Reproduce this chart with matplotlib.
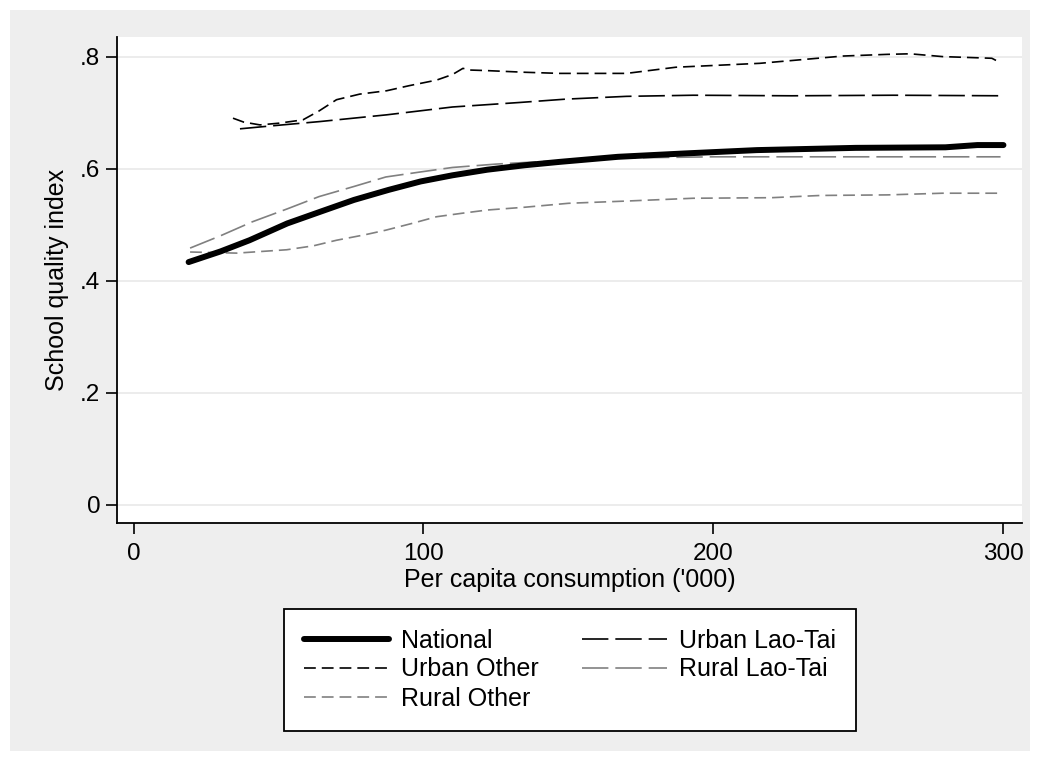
import matplotlib
matplotlib.use("Agg")
import matplotlib.pyplot as plt
from matplotlib.patches import Rectangle

plt.rcParams['font.family'] = ['Liberation Sans', 'DejaVu Sans']
plt.rcParams['lines.scale_dashes'] = False

# ---- data ----
nat_x = [19, 30, 40, 53, 65, 76, 88, 99, 110, 122, 135, 147, 167, 190, 215, 249, 280, 291, 300]
nat_y = [.433, .452, .472, .502, .524, .544, .562, .577, .588, .598, .606, .612, .621, .627, .633, .637, .638, .642, .642]

ult_x = [36.7, 47, 64.3, 87.3, 110, 133, 149, 170, 193, 227, 262, 300]
ult_y = [.671, .676, .684, .696, .710, .718, .724, .729, .731, .730, .731, .730]

uo_x = [34.3, 38, 43.6, 50, 58.4, 64, 70, 78, 87.3, 95, 104.5, 110, 113.6, 116, 121.8,
        135, 147, 170, 187, 216, 244.7, 260, 267.8, 279, 296, 297.5]
uo_y = [.690, .683, .678, .681, .687, .703, .723, .733, .739, .748, .758, .768, .779, .776, .775,
        .772, .770, .770, .781, .788, .801, .804, .805, .800, .797, .793]

rlt_x = [19.5, 30, 41, 53, 64, 76, 87, 99, 110, 125, 139, 155, 170, 200, 250, 299]
rlt_y = [.458, .480, .505, .528, .550, .568, .585, .594, .602, .608, .612, .616, .619, .621, .621, .621]

ro_x = [19.5, 35.6, 52.8, 62, 70, 80, 87, 96, 104.5, 113, 122, 135, 150, 170, 193, 220, 237, 260, 279, 298]
ro_y = [.451, .449, .455, .462, .472, .482, .490, .502, .514, .520, .526, .531, .538, .542, .547, .548, .552, .553, .556, .556]

x_ticks = [0, 100, 200, 300]
y_ticks = [0, .2, .4, .6, .8]
y_tick_labels = ['0', '.2', '.4', '.6', '.8']

W, H = 1040, 761
fig = plt.figure(figsize=(W / 100, H / 100), dpi=100, facecolor='white')
fig.patches.append(Rectangle((10 / W, 10 / H), 1 - 20 / W, 1 - 20 / H,
                             transform=fig.transFigure, facecolor='#eeeeee',
                             edgecolor='none', zorder=-10))

ax = fig.add_axes([117 / W, 1 - 523 / H, (1022 - 117) / W, (523 - 37) / H])
ax.set_facecolor('white')
ax.set_xlim(-5.7, 306.4)
ax.set_ylim(-0.033, 0.835)

for yt in y_ticks:
    ax.axhline(yt, color='#eaeaea', lw=1.3, zorder=0)

gray = '#808080'
ax.plot(nat_x, nat_y, color='black', lw=4.3, solid_capstyle='round', label='National', zorder=5)
ax.plot(ult_x, ult_y, color='black', lw=1.2, dashes=(19, 5), label='Urban Lao-Tai', zorder=4)
ax.plot(uo_x, uo_y, color='black', lw=1.2, dashes=(8.5, 4.3), label='Urban Other', zorder=4)
ax.plot(rlt_x, rlt_y, color=gray, lw=1.2, dashes=(19, 5), label='Rural Lao-Tai', zorder=3)
ax.plot(ro_x, ro_y, color=gray, lw=1.2, dashes=(8.5, 4.3), label='Rural Other', zorder=3)

for s in ['top', 'right']:
    ax.spines[s].set_visible(False)
for s in ['left', 'bottom']:
    ax.spines[s].set_linewidth(1.3)
    ax.spines[s].set_color('black')

ax.set_xticks(x_ticks)
ax.set_xticklabels([str(v) for v in x_ticks])
ax.set_yticks(y_ticks)
ax.set_yticklabels(y_tick_labels)
ax.tick_params(axis='both', direction='out', length=8, width=1.2, labelsize=17.5)
ax.tick_params(axis='x', pad=6.5)
ax.tick_params(axis='y', pad=4)

ax.set_xlabel("Per capita consumption ('000)", fontsize=18, labelpad=2)
ax.set_ylabel("School quality index", fontsize=18, labelpad=8)

handles, labels = ax.get_legend_handles_labels()
hmap = dict(zip(labels, handles))
# two-column layout (column-major fill)
col1 = ['National', 'Urban Other', 'Rural Other']
col2 = ['Urban Lao-Tai', 'Rural Lao-Tai']
hl = [hmap[l] for l in col1 + col2]
leg = fig.legend(hl, col1 + col2, ncol=2, loc='center',
                 bbox_to_anchor=(570 / W, 1 - 669.5 / H),
                 fontsize=18, frameon=True, fancybox=False, framealpha=1,
                 edgecolor='black', handlelength=3.4, handletextpad=0.5,
                 columnspacing=1.7, labelspacing=0.2, borderpad=0.8)
leg.get_frame().set_linewidth(1.3)

fig.savefig('out.png', dpi=100, facecolor=fig.get_facecolor())
